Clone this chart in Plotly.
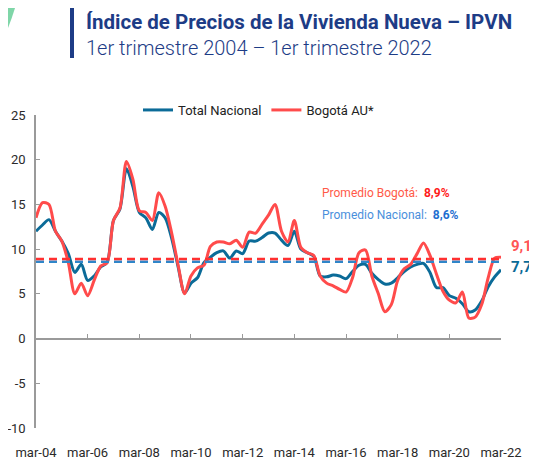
import pandas as pd
import plotly.graph_objects as go

# trimestres mar-04 .. mar-22
quarters = pd.date_range("2004-03-01", "2022-03-01", freq="QS-MAR")

total_nacional = [12.0, 12.7, 13.3, 12.0, 10.9, 9.5, 7.4, 8.3, 6.5, 7.0,
                  8.0, 8.5, 13.2, 14.5, 19.0, 17.0, 14.1, 13.5, 12.2, 14.1,
                  13.5, 11.2, 8.0, 5.1, 6.2, 6.8, 8.5, 9.1, 9.6, 9.8,
                  9.0, 9.8, 9.5, 10.9, 10.9, 11.3, 11.8, 11.8, 11.0, 10.4,
                  12.0, 10.0, 9.6, 9.2, 7.0, 6.9, 7.1, 7.0, 6.7, 7.5,
                  8.2, 8.3, 7.3, 6.6, 6.1, 6.2, 6.8, 7.5, 8.0, 8.3,
                  8.4, 7.4, 5.7, 5.7, 4.8, 4.5, 3.9, 3.0, 3.2, 4.2,
                  5.8, 6.9, 7.7]

bogota = [13.5, 15.2, 15.0, 12.0, 10.9, 8.5, 5.0, 6.2, 4.8, 6.5,
          8.1, 8.5, 13.2, 14.6, 19.8, 17.8, 14.3, 14.1, 13.2, 16.3,
          14.8, 11.8, 8.2, 5.0, 7.0, 7.9, 8.2, 10.3, 10.8, 10.8,
          10.6, 11.0, 10.2, 11.9, 11.8, 12.8, 13.8, 15.0, 12.0, 10.8,
          13.2, 10.2, 9.6, 9.3, 7.0, 6.2, 5.9, 5.5, 5.2, 6.8,
          9.6, 9.9, 7.0, 5.0, 3.0, 3.8, 6.5, 7.8, 8.3, 9.5,
          10.7, 9.3, 7.2, 5.3, 4.3, 4.0, 5.2, 2.3, 2.4, 3.8,
          6.8, 9.0, 9.1]

promedio_bogota = 8.9
promedio_nacional = 8.6

tick_dates = quarters[::8]
tick_labels = ["mar-04", "mar-06", "mar-08", "mar-10", "mar-12",
               "mar-14", "mar-16", "mar-18", "mar-20", "mar-22"]
y_ticks = [25, 20, 15, 10, 5, 0, -5, -10]
y_labels = ["25", "20", "15", "10", "5", "0", "-5", "-10"]

BLUE = "#0b6b98"
RED = "#ff4b4b"
NAVY = "#1d3c86"
FONT = "Roboto"

fig = go.Figure()

# promedios (eje x2, que dibuja la linea del cero)
fig.add_trace(go.Scatter(x=[quarters[0], quarters[-1]], y=[promedio_nacional] * 2,
                         mode="lines", xaxis="x2", showlegend=False, hoverinfo="skip",
                         line=dict(color="#2f86c9", width=2.5, dash="8px,5px")))
fig.add_trace(go.Scatter(x=[quarters[0], quarters[-1]], y=[promedio_bogota] * 2,
                         mode="lines", xaxis="x2", showlegend=False, hoverinfo="skip",
                         line=dict(color="#ff3030", width=2.5, dash="8px,5px")))

fig.add_trace(go.Scatter(x=quarters, y=total_nacional, name="Total Nacional", mode="lines",
                         line=dict(color=BLUE, width=3, shape="spline", smoothing=0.8)))
fig.add_trace(go.Scatter(x=quarters, y=bogota, name="Bogotá AU*", mode="lines",
                         line=dict(color=RED, width=3, shape="spline", smoothing=0.8)))

x_range = [quarters[0], quarters[-1]]

# la pagina agrega 8px de margen al body: la figura se hace 8px mas pequeña
fig.update_layout(
    width=529, height=457,
    margin=dict(l=28, r=36, t=107, b=37),
    paper_bgcolor="white", plot_bgcolor="white",
    font=dict(family=FONT, size=13, color="#333333"),
    xaxis=dict(range=x_range, tickvals=tick_dates, ticktext=tick_labels,
               showgrid=False, zeroline=False, showline=False, automargin=False,
               ticks="outside", ticklen=12, tickcolor="rgba(0,0,0,0)",
               tickfont=dict(size=13, color="#2a2a2a")),
    xaxis2=dict(range=x_range, overlaying="x", anchor="free", position=10 / 35,
                tickvals=tick_dates, showticklabels=False, showgrid=False,
                zeroline=False, showline=True, linecolor="#9a9a9a", linewidth=1.5,
                ticks="inside", ticklen=4, tickcolor="#9a9a9a", automargin=False),
    yaxis=dict(range=[-10, 25], tickvals=y_ticks, ticktext=y_labels, showgrid=False,
               zeroline=False, showline=True, linecolor="#9a9a9a", linewidth=1.5,
               ticks="inside", ticklen=4, tickcolor="#9a9a9a", automargin=False,
               ticklabelstandoff=6, tickfont=dict(size=13, color="#2a2a2a")),
    legend=dict(orientation="h", x=(138 - 36) / 465, xanchor="left", y=1.016, yanchor="middle",
                font=dict(size=13, color="#222222"), itemwidth=30,
                bgcolor="rgba(0,0,0,0)", traceorder="normal"),
    showlegend=True,
)

annotations = [
    dict(text="<b>Índice de Precios de la Vivienda Nueva – IPVN</b>", x=(84 - 36) / 465,
         y=(428 - 22) / 313, font=dict(size=20.5, color=NAVY)),
    dict(text="1er trimestre 2004 – 1er trimestre 2022", x=(84 - 36) / 465, y=(428 - 48) / 313,
         font=dict(size=20, color=NAVY, weight=300)),
    dict(text="<span style='color:#ff5a48'>Promedio Bogotá: </span> <b>8,9%</b>",
         x=(320 - 36) / 465, y=(428 - 193) / 313,
         font=dict(size=12, color="#ff1a1a")),
    dict(text="<span style='color:#4a8fdc'>Promedio Nacional: </span> <b>8,6%</b>",
         x=(320 - 36) / 465, y=(428 - 215) / 313,
         font=dict(size=12, color="#1f6fd0")),
    dict(text="<b>9,1</b>", x=(509 - 36) / 465, y=(428 - 246) / 313,
         font=dict(size=15, color="#ff5555")),
    dict(text="<b>7,7</b>", x=(509 - 36) / 465, y=(428 - 267) / 313,
         font=dict(size=15, color=BLUE)),
]
for a in annotations:
    a.update(xref="paper", yref="paper", xanchor="left", yanchor="middle", showarrow=False)
fig.update_layout(annotations=annotations)

# barra vertical del titulo y detalle verde de la esquina
fig.add_shape(type="rect", xref="paper", yref="paper",
              x0=(70 - 36) / 465, x1=(74 - 36) / 465, y0=(428 - 58) / 313, y1=(428 - 8) / 313,
              fillcolor=NAVY, line=dict(width=0))
fig.add_shape(type="path", xref="paper", yref="paper",
              path="M %f %f L %f %f Q %f %f %f %f Z" % (
                  -28 / 465, 420 / 313, -21 / 465, 420 / 313,
                  -24 / 465, (420 - 10) / 313, -28 / 465, (420 - 20) / 313),
              fillcolor="#7fd6a8", line=dict(width=0))

fig.write_html("out.html")
